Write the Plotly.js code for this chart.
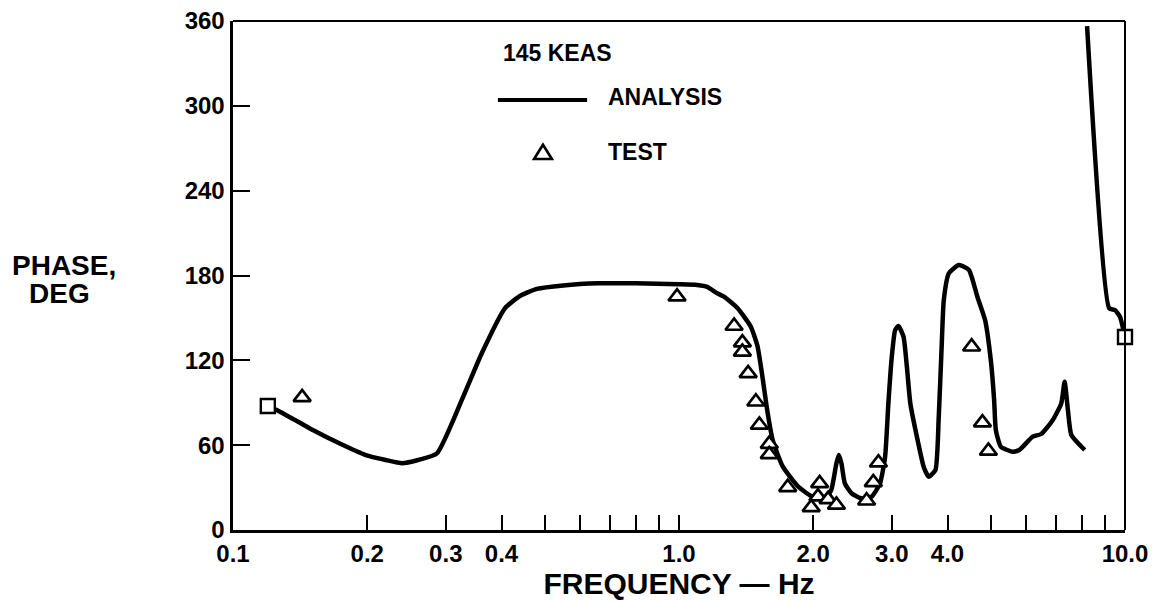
<!DOCTYPE html>
<html>
<head>
<meta charset="utf-8">
<script src="https://cdn.plot.ly/plotly-3.0.1.min.js"></script>
<style>
html,body{margin:0;padding:0;background:#fff;}
#chart{width:1156px;height:602px;}
</style>
</head>
<body>
<div id="chart"></div>
<script>
// Analysis curve, main branch (frequency Hz, phase deg)
const freqAnalysis = [0.1197,0.1253,0.141,0.151,0.1731,0.1985,0.22,0.2394,0.26,0.2866,0.3259,0.3612,0.407,0.44,0.48,0.55,0.66,0.8,1.0,1.098,1.157,1.218,1.262,1.352,1.449,1.5,1.539,1.58,1.622,1.708,1.846,1.979,2.121,2.195,2.254,2.282,2.313,2.354,2.436,2.566,2.703,2.823,2.898,2.948,2.999,3.052,3.105,3.187,3.243,3.301,3.415,3.536,3.629,3.758,3.823,3.878,3.924,4.027,4.242,4.468,4.666,4.856,5.002,5.088,5.133,5.268,5.596,5.794,6.209,6.486,6.89,7.197,7.322,7.447,7.58,8.122];
const phaseAnalysis = [87.7,84.9,76,70.7,61.3,53,49.5,47.2,49.5,54.2,92,125,156.8,165.5,170.5,173,174.5,174.5,173.8,173.3,172,167.4,165,157,143.8,130,108,83,63.6,45,31,24,21.2,28.3,47.2,53,47.2,33,26,22.4,23.6,33,51.8,90,122,141.4,144.3,136.7,115.5,89.6,66,44.8,37.7,42.4,80,127.3,162.7,181.5,187.4,183.9,165,148.5,120,92,70.7,58.9,55.4,56.6,66,67.9,77.8,89.6,104.9,84.9,67.2,56.6];
// Analysis curve, high-frequency branch
const freqAnalysisHigh = [8.222,9.217,9.494,9.743,10.0];
const phaseAnalysisHigh = [356.4,156.8,155.6,150.8,136.5];
// Test points
const freqTest = [0.1429,0.99,1.329,1.387,1.387,1.429,1.487,1.514,1.594,1.594,1.753,1.979,2.049,2.067,2.159,2.254,2.634,2.727,2.80,4.53,4.79,4.94];
const phaseTest = [93.8,165,144.3,132.5,126,110.8,90.7,74.3,60.8,53.5,30.2,16,23.6,33,21.7,17.7,20.7,33.7,47.6,129.6,75.9,55.9];
// Curve end points (open squares)
const freqEnds = [0.1197,10.0];
const phaseEnds = [87.7,136.5];
// Axis ticks
const xTickVals = [0.1,0.2,0.3,0.4,0.5,0.6,0.7,0.8,0.9,1,2,3,4,5,6,7,8,9,10];
const xTickText = ["0.1","0.2","0.3","0.4","","","","","","1.0","2.0","3.0","4.0","","","","","","10.0"];
const yTickVals = [0,60,120,180,240,300,360];

const FONT = "Liberation Sans, Arial, Helvetica, sans-serif";

const traces = [
  {x: freqAnalysis, y: phaseAnalysis, type: 'scatter', mode: 'lines',
   line: {color: '#000', width: 4.5, shape: 'spline', smoothing: 0.5}, showlegend: false, name: 'ANALYSIS'},
  {x: freqAnalysisHigh, y: phaseAnalysisHigh, type: 'scatter', mode: 'lines',
   line: {color: '#000', width: 4.5, shape: 'spline', smoothing: 0.5}, showlegend: false, name: 'ANALYSIS'},
  {x: freqTest, y: phaseTest, type: 'scatter', mode: 'markers',
   marker: {symbol: 'triangle-up', size: 15, color: '#fff', line: {color: '#000', width: 2.7}}, showlegend: false, name: 'TEST'},
  {x: freqEnds, y: phaseEnds, type: 'scatter', mode: 'markers', cliponaxis: false,
   marker: {symbol: 'square', size: 14, color: '#fff', line: {color: '#000', width: 2.4}}, showlegend: false}
];

const layout = {
  width: 1156, height: 602,
  margin: {l: 233, r: 31, t: 21, b: 72},
  paper_bgcolor: '#fff', plot_bgcolor: '#fff',
  font: {family: FONT, color: '#000'},
  showlegend: false,
  xaxis: {
    type: 'log', range: [-1, 1],
    tickmode: 'array', tickvals: xTickVals, ticktext: xTickText,
    ticks: 'inside', ticklen: 15, tickwidth: 2, tickcolor: '#000',
    showline: true, linewidth: 3, linecolor: '#000',
    showgrid: false, zeroline: false,
    tickfont: {family: FONT, size: 24, weight: 'bold', color: '#000'},
    title: {text: 'FREQUENCY \u2014 Hz', font: {family: FONT, size: 30, weight: 'bold', color: '#000'}, standoff: 8}
  },
  yaxis: {
    range: [0, 360],
    tickmode: 'array', tickvals: yTickVals,
    ticks: 'inside', ticklen: 17, tickwidth: 2, tickcolor: '#000',
    showline: true, linewidth: 3.5, linecolor: '#000',
    showgrid: false, zeroline: false,
    tickfont: {family: FONT, size: 24, weight: 'bold', color: '#000'}
  },
  shapes: [
    {type: 'line', xref: 'paper', yref: 'paper', x0: 0, x1: 1, y0: 1, y1: 1, line: {color: '#000', width: 2}},
    {type: 'line', xref: 'paper', yref: 'paper', x0: 1, x1: 1, y0: 0, y1: 1, line: {color: '#000', width: 2}},
    // legend key: line sample
    {type: 'line', xref: 'paper', yref: 'paper', x0: 0.297, x1: 0.397, y0: 0.845, y1: 0.845, line: {color: '#000', width: 4}},
    // legend key: triangle sample
    {type: 'path', xref: 'paper', yref: 'paper', path: 'M 0.3375,0.729 L 0.3575,0.729 L 0.3475,0.757 Z', line: {color: '#000', width: 2.6}, fillcolor: '#fff'}
  ],
  annotations: [
    {text: 'PHASE,', xref: 'paper', yref: 'paper', x: -0.1895, y: 0.52, xanchor: 'center', yanchor: 'middle', showarrow: false,
     font: {family: FONT, size: 28, weight: 'bold', color: '#000'}},
    {text: 'DEG', xref: 'paper', yref: 'paper', x: -0.194, y: 0.464, xanchor: 'center', yanchor: 'middle', showarrow: false,
     font: {family: FONT, size: 28, weight: 'bold', color: '#000'}},
    {text: '145 KEAS', xref: 'paper', yref: 'paper', x: 0.300, y: 0.938, xanchor: 'left', yanchor: 'middle', showarrow: false,
     font: {family: FONT, size: 23, weight: 'bold', color: '#000'}},
    {text: 'ANALYSIS', xref: 'paper', yref: 'paper', x: 0.418, y: 0.85, xanchor: 'left', yanchor: 'middle', showarrow: false,
     font: {family: FONT, size: 23, weight: 'bold', color: '#000'}},
    {text: 'TEST', xref: 'paper', yref: 'paper', x: 0.418, y: 0.743, xanchor: 'left', yanchor: 'middle', showarrow: false,
     font: {family: FONT, size: 23, weight: 'bold', color: '#000'}}
  ]
};

Plotly.newPlot('chart', traces, layout, {displayModeBar: false, staticPlot: true});
</script>
</body>
</html>
